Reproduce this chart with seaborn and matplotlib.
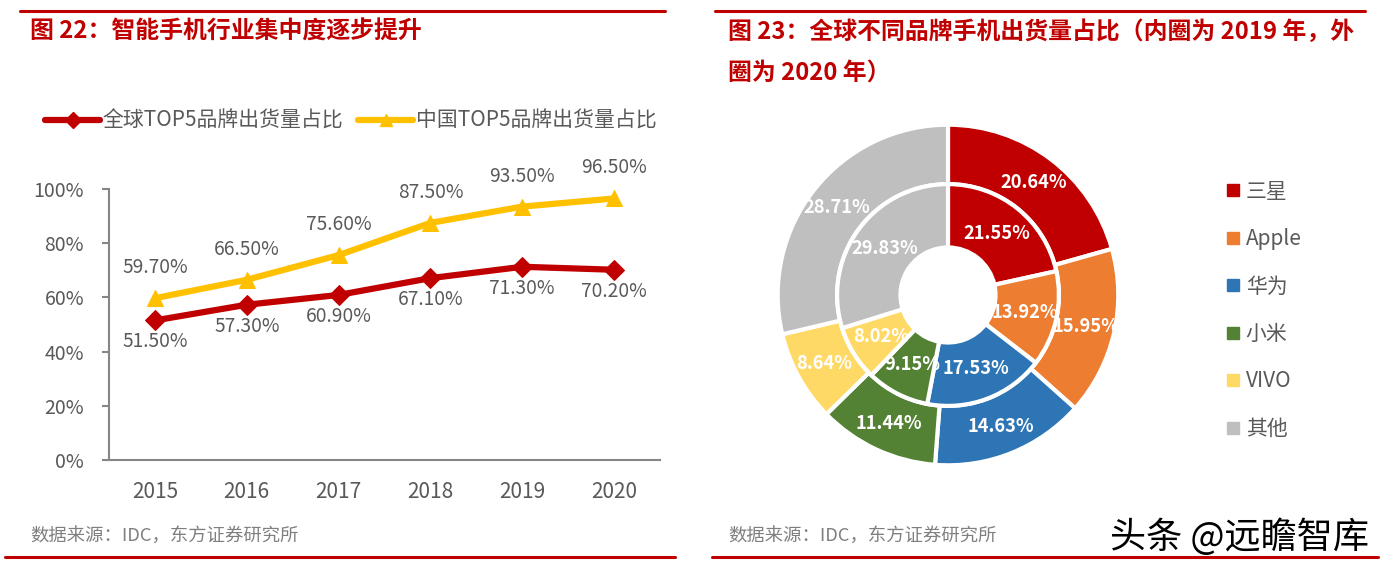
import numpy as np
import pandas as pd
import seaborn as sns
import matplotlib.pyplot as plt
from matplotlib.lines import Line2D

# ---- data ----
years = ['2015', '2016', '2017', '2018', '2019', '2020']
global_top5 = [51.5, 57.3, 60.9, 67.1, 71.3, 70.2]
china_top5 = [59.7, 66.5, 75.6, 87.5, 93.5, 96.5]
series_names = ['全球TOP5品牌出货量占比', '中国TOP5品牌出货量占比']

brands = ['三星', 'Apple', '华为', '小米', 'VIVO', '其他']
share_2020 = [20.64, 15.95, 14.63, 11.44, 8.64, 28.71]   # outer ring
share_2019 = [21.55, 13.92, 17.53, 9.15, 8.02, 29.83]    # inner ring
brand_colors = ['#C00000', '#ED7D31', '#2E75B6', '#548235', '#FFD966', '#BFBFBF']

sns.set_theme(style='white')
plt.rcParams['font.family'] = ['Noto Sans CJK SC', 'DejaVu Sans']

RED = '#C00000'
GREY_TXT = '#595959'
AXIS = '#868686'

W, H = 1382, 571
fig = plt.figure(figsize=(W / 100, H / 100), dpi=100)


def fx(px):
    return px / W


def fy(py):
    return 1 - py / H


# ---- frame lines / titles ----
for x0, x1, y in [(20, 665, 11), (715, 1365, 11), (5, 675, 557), (712, 1378, 557)]:
    fig.add_artist(Line2D([fx(x0), fx(x1)], [fy(y), fy(y)], color=RED, lw=2.2))

fig.text(fx(30), fy(32), '图 22：智能手机行业集中度逐步提升', color=RED,
         fontsize=17.2, fontweight='bold', va='center', ha='left')
fig.text(fx(728), fy(32), '图 23：全球不同品牌手机出货量占比（内圈为 2019 年，外',
         color=RED, fontsize=17.2, fontweight='bold', va='center', ha='left')
fig.text(fx(728), fy(73), '圈为 2020 年）', color=RED,
         fontsize=17.2, fontweight='bold', va='center', ha='left')

fig.text(fx(30), fy(537), '数据来源：IDC，东方证券研究所', color='#7F7F7F',
         fontsize=13.2, va='center', ha='left')
fig.text(fx(728), fy(537), '数据来源：IDC，东方证券研究所', color='#7F7F7F',
         fontsize=13.2, va='center', ha='left')
fig.text(fx(1110), fy(537), '头条 @远瞻智库', color='black',
         fontsize=26, va='center', ha='left')

# ---- line chart ----
ax = fig.add_axes([fx(109), fy(460), fx(660) - fx(109), fy(189) - fy(460)])
pos = np.arange(len(years))
df = pd.DataFrame({'pos': pos, 'g': np.array(global_top5) / 100,
                   'c': np.array(china_top5) / 100})

sns.lineplot(data=df, x='pos', y='g', ax=ax, color=RED, lw=4.5,
             marker='D', markersize=10, markeredgecolor=RED)
sns.lineplot(data=df, x='pos', y='c', ax=ax, color='#FFC000', lw=4.5,
             marker='^', markersize=12, markeredgecolor='#FFC000')

for p, v in zip(pos, global_top5):
    ax.annotate(f'{v:.2f}%', (p, v / 100), xytext=(0, -15.5), textcoords='offset points',
                ha='center', va='center', fontsize=13.8, color=GREY_TXT)
for p, v in zip(pos, china_top5):
    ax.annotate(f'{v:.2f}%', (p, v / 100), xytext=(0, 22), textcoords='offset points',
                ha='center', va='center', fontsize=13.8, color=GREY_TXT)

ax.set_xlim(-0.5, len(years) - 0.5)
ax.set_ylim(0, 1)
ax.set_xticks(pos)
ax.set_xticklabels(years)
ax.set_yticks(np.arange(0, 1.01, 0.2))
ax.set_yticklabels([f'{int(round(t * 100))}%' for t in np.arange(0, 1.01, 0.2)])
ax.set_xlabel('')
ax.set_ylabel('')
for s in ['top', 'right']:
    ax.spines[s].set_visible(False)
for s in ['left', 'bottom']:
    ax.spines[s].set_color(AXIS)
    ax.spines[s].set_linewidth(1.5)
ax.tick_params(axis='y', which='both', left=True, length=5, width=1.5, color=AXIS,
               labelsize=14, labelcolor=GREY_TXT, pad=13)
ax.tick_params(axis='x', bottom=False, labelsize=15, labelcolor=GREY_TXT, pad=9)
ax.set_facecolor('none')

handles = [Line2D([], [], color=RED, lw=4.5, marker='D', markersize=8),
           Line2D([], [], color='#FFC000', lw=4.5, marker='^', markersize=9)]
fig.legend(handles, series_names, loc='center left', bbox_to_anchor=(fx(45), fy(121)),
           ncol=2, frameon=False, fontsize=15, labelcolor=GREY_TXT,
           handlelength=2.65, handletextpad=0.12, columnspacing=0.7,
           borderpad=0, borderaxespad=0)

# ---- nested donut ----
pax = fig.add_axes([fx(776), fy(467), fx(1120) - fx(776), fy(123) - fy(467)])
r_out, r_mid, r_hole = 1.0, 112 / 172, 48 / 172


def label_iter(vals):
    it = iter(vals)
    return lambda _pct: f'{next(it):.2f}%'


w_out, _, t_out = pax.pie(share_2020, colors=brand_colors, radius=r_out, startangle=90,
                          counterclock=False, autopct=label_iter(share_2020),
                          pctdistance=0.83,
                          wedgeprops=dict(width=r_out - r_mid, edgecolor='white', linewidth=3))
w_in, _, t_in = pax.pie(share_2019, colors=brand_colors, radius=r_mid, startangle=90,
                        counterclock=False, autopct=label_iter(share_2019),
                        pctdistance=0.71,
                        wedgeprops=dict(width=r_mid - r_hole, edgecolor='white', linewidth=3))
for t in list(t_out) + list(t_in):
    t.set_color('white')
    t.set_fontsize(13.2)
    t.set_fontweight('bold')
pax.set_xlim(-1.01, 1.01)
pax.set_ylim(-1.01, 1.01)
pax.set_aspect('equal')
pax.axis('off')

leg_handles = [Line2D([], [], ls='', marker='s', markersize=8, color=c) for c in brand_colors]
fig.legend(leg_handles, brands, loc='upper left', bbox_to_anchor=(fx(1206), fy(162)),
           frameon=False, fontsize=15, labelcolor=GREY_TXT, labelspacing=1.22,
           handlelength=0.8, handletextpad=0.2)

fig.savefig('out.png', dpi=100)
